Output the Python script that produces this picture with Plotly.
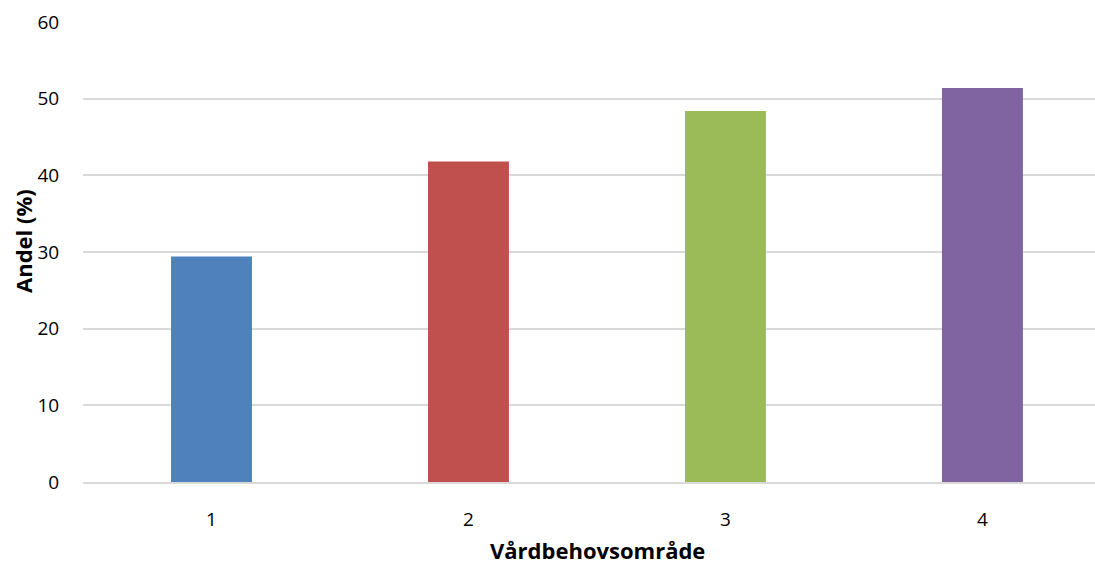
import plotly.graph_objects as go

# Andel (%) per vårdbehovsområde
omraden = ["1", "2", "3", "4"]
andel = [29.4, 41.8, 48.4, 51.4]
farger = ["#4F81BD", "#C0504D", "#9BBB59", "#8064A2"]
y_ticks = [0, 10, 20, 30, 40, 50, 60]

fig = go.Figure(
    go.Bar(
        x=omraden,
        y=andel,
        marker=dict(color=farger, line=dict(width=0)),
        width=0.315,
        hoverinfo="x+y",
    )
)

font_family = "Open Sans, Liberation Sans, sans-serif"

fig.update_layout(
    width=1095,
    height=567,
    margin=dict(l=83, r=0, t=22, b=85),
    plot_bgcolor="white",
    paper_bgcolor="white",
    showlegend=False,
    font=dict(family=font_family, size=19, color="#000000"),
    xaxis=dict(
        type="category",
        range=[-0.5, 3.438],
        showgrid=False,
        showline=True,
        linecolor="#D9D9D9",
        linewidth=2,
        ticks="outside",
        ticklen=19,
        tickcolor="rgba(0,0,0,0)",
        tickfont=dict(size=19),
        automargin=False,
    ),
    yaxis=dict(
        range=[0, 60],
        tickvals=y_ticks,
        showgrid=True,
        gridcolor="#D9D9D9",
        gridwidth=2,
        zeroline=False,
        showline=False,
        ticks="outside",
        ticklen=19,
        tickcolor="rgba(0,0,0,0)",
        tickfont=dict(size=19),
        automargin=False,
    ),
    annotations=[
        dict(
            text="<b>Vårdbehovsområde</b>",
            xref="paper", yref="paper",
            x=0.508, y=0,
            xanchor="center", yanchor="bottom",
            yshift=-84,
            borderpad=0,
            showarrow=False,
            font=dict(size=22),
        ),
        dict(
            text="<b>Andel (%)</b>",
            xref="paper", yref="paper",
            x=0, y=0.524,
            xanchor="center", yanchor="middle",
            xshift=-60,
            textangle=-90,
            showarrow=False,
            font=dict(size=22),
        ),
    ],
)

fig.write_html("out.html")
